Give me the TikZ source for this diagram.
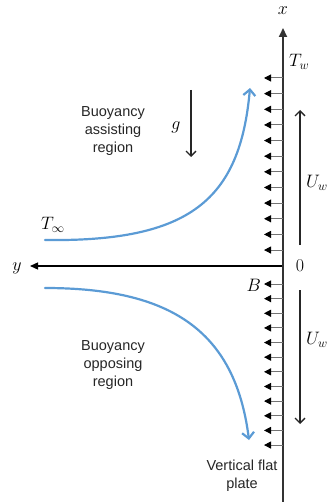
\RequirePackage{fix-cm}
\documentclass[tikz,border=0pt]{standalone}
\usepackage{fontspec}
\setsansfont{Liberation Sans}
\usetikzlibrary{arrows.meta}
\definecolor{curveblue}{HTML}{5B9BD5}
\begin{document}
\begin{tikzpicture}[x=1pt,y=-1pt,
  lbl/.style={font=\fontsize{14.5}{18}\selectfont\sffamily, align=center, text=black!85, inner sep=0},
  mth/.style={font=\fontsize{18}{21}\selectfont, inner sep=0},
  flow/.style={curveblue, line width=2.2pt, line cap=round, -{Straight Barb[length=6pt,width=12pt,line width=2.2pt]}},
  plate/.style={black!80, line width=2pt, -{Triangle[length=9pt,width=8pt]}},
  tickarrow/.style={black!55, line width=1pt, -{Triangle[length=7pt,width=7pt,black]}},
  axisline/.style={black, line width=1.3pt, -{Triangle[length=8pt,width=7pt]}},
  velarrow/.style={black!85, line width=1.3pt, -{Straight Barb[length=5pt,width=10pt,line width=1.3pt]}}
]
\useasboundingbox (0,0) rectangle (327,502);
% plate
\coordinate (pb) at (283,502);
\coordinate (ptop) at (283,28);
\draw[plate] (pb) -- (ptop);
% ticks upper
\foreach \k in {0,...,11}{
  \pgfmathsetmacro{\yy}{78+15.64*\k}
  \coordinate (ua\k) at (283,\yy);
  \coordinate (ub\k) at (264,\yy);
  \draw[tickarrow] (ua\k) -- (ub\k);
}
% ticks lower
\foreach \k in {0,...,11}{
  \pgfmathsetmacro{\yy}{284+14.64*\k}
  \coordinate (la\k) at (283,\yy);
  \coordinate (lb\k) at (264,\yy);
  \draw[tickarrow] (la\k) -- (lb\k);
}
% y axis
\coordinate (o) at (282,266);
\coordinate (yend) at (30,266);
\draw[axisline] (o) -- (yend);
% velocity arrows
\coordinate (u1a) at (300,245);
\coordinate (u1b) at (300,110);
\draw[velarrow] (u1a) -- (u1b);
\coordinate (u2a) at (300,290);
\coordinate (u2b) at (300,424);
\draw[velarrow] (u2a) -- (u2b);
% gravity
\coordinate (g1) at (191,90);
\coordinate (g2) at (191,157);
\draw[velarrow] (g1) -- (g2);
% flow curves
\coordinate (c1s) at (45,240);
\coordinate (c1e) at (250,88);
\draw[flow] (c1s) .. controls (190,242) and (240,200) .. (c1e);
\coordinate (c2s) at (45,288);
\coordinate (c2e) at (249,440);
\draw[flow] (c2s) .. controls (170,288) and (235,330) .. (c2e);
% labels
\node[mth] (xl) at (283,11) {$x$};
\node[mth] (yl) at (17,268) {$y$};
\node[mth] (zl) at (300,266) {$0$};
\node[mth, anchor=east] (bl) at (261,285) {$B$};
\node[mth, anchor=west] (tw) at (289,62) {$T_w$};
\node[mth, anchor=west] (uw1) at (306,183) {$U_w$};
\node[mth, anchor=west] (uw2) at (306,340) {$U_w$};
\node[mth] (gl) at (176,127) {$g$};
\node[mth, anchor=west] (tinf) at (41,225) {$T_\infty$};
\node[lbl] (t1) at (113,131) {Buoyancy\\assisting\\region};
\node[lbl] (t2) at (113,365) {Buoyancy\\opposing\\region};
\node[lbl] (t3) at (242,476) {Vertical flat\\plate};
\end{tikzpicture}
\end{document}
